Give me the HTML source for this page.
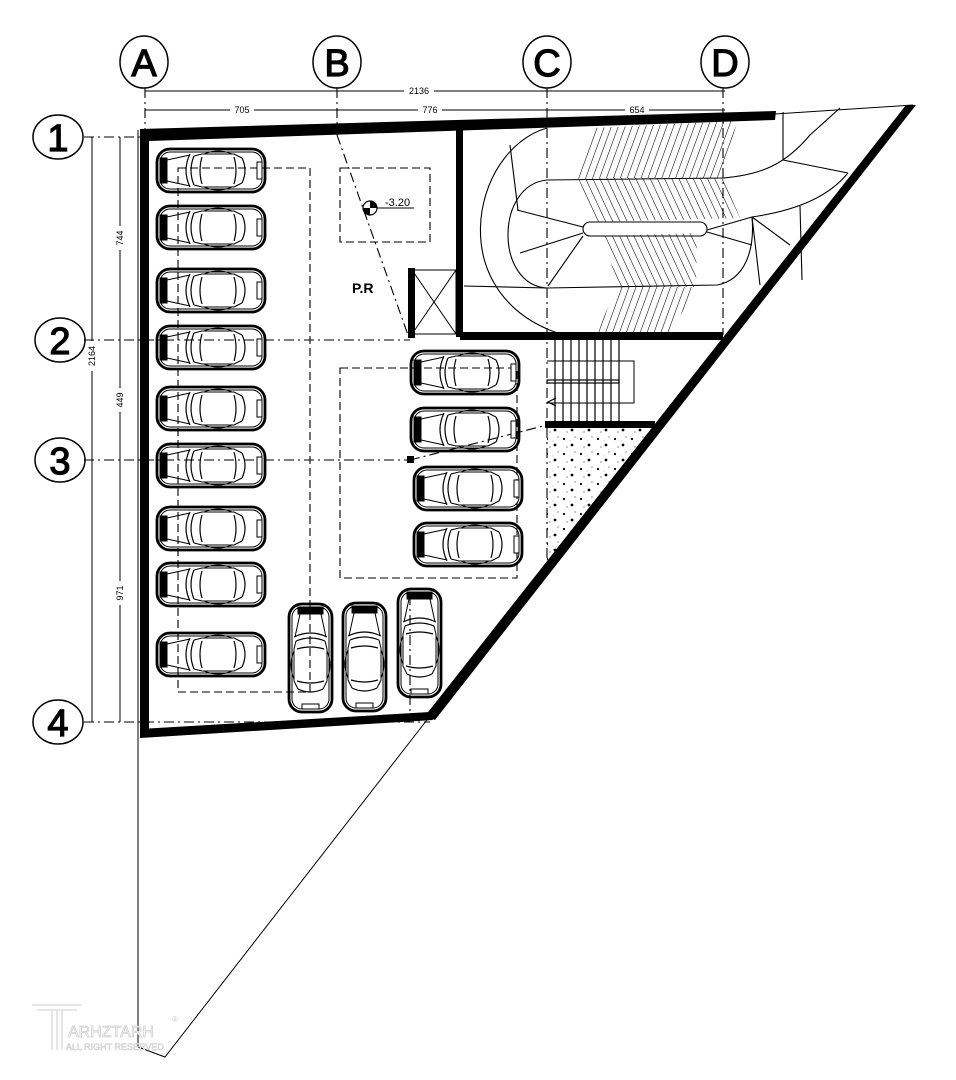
<!DOCTYPE html>
<html><head><meta charset="utf-8"><style>
html,body{margin:0;padding:0;background:#fff;}
svg{display:block;}
text{font-family:"Liberation Sans",sans-serif;}
</style></head><body>
<svg width="956" height="1080" viewBox="0 0 956 1080" xmlns="http://www.w3.org/2000/svg">
<defs>
<g id="car" fill="none" stroke="#000">
 <rect x="1" y="1" width="108" height="43" rx="13" stroke-width="2.8"/>
 <rect x="4" y="4" width="102" height="37" rx="10" stroke-width="1"/>
 <rect x="4" y="10" width="7" height="25" fill="#000"/>
 <rect x="101" y="14" width="5" height="17" fill="#fff" stroke-width="1"/>
 <path d="M11,12 L34,7 M11,33 L34,38" stroke-width="1"/>
 <path d="M34,6 Q26,22.5 34,39 M38,8 Q32,22.5 38,37" stroke-width="1.2"/>
 <path d="M38,8 L46,6 L78,6 L86,10 M38,37 L46,39 L78,39 L86,35" stroke-width="1"/>
 <path d="M46,9 Q42,22.5 46,36 M78,9 Q82,22.5 78,36 M86,10 Q92,22.5 86,35" stroke-width="1.2"/>
 <path d="M48,6 Q62,0 76,6 M48,39 Q62,45 76,39" stroke-width="1"/>
</g>
<pattern id="hA" patternUnits="userSpaceOnUse" width="6.5" height="10" patternTransform="rotate(20)">
 <line x1="0" y1="0" x2="0" y2="10" stroke="#000" stroke-width="1.1"/></pattern>
<pattern id="hB" patternUnits="userSpaceOnUse" width="6.5" height="10" patternTransform="rotate(-25)">
 <line x1="0" y1="0" x2="0" y2="10" stroke="#000" stroke-width="1.1"/></pattern>
<pattern id="dots" patternUnits="userSpaceOnUse" width="17" height="15">
 <circle cx="3" cy="4" r="1.1" fill="#000"/><circle cx="11" cy="10" r="1.4" fill="#000"/>
 <circle cx="14" cy="2" r="0.6" fill="#444"/><circle cx="6" cy="12" r="0.6" fill="#444"/>
 <circle cx="9" cy="6" r="0.4" fill="#666"/></pattern>
</defs>

<!-- grid circles -->
<g fill="none" stroke="#000" stroke-width="1.5">
 <ellipse cx="144" cy="62" rx="24" ry="26"/><ellipse cx="337" cy="62" rx="24" ry="26"/>
 <ellipse cx="547" cy="62" rx="24" ry="26"/><ellipse cx="725" cy="62" rx="24" ry="26"/>
 <ellipse cx="58" cy="137" rx="25" ry="22"/><ellipse cx="60" cy="340" rx="25" ry="22"/>
 <ellipse cx="60" cy="460" rx="25" ry="22"/><ellipse cx="58" cy="722" rx="25" ry="22"/>
</g>
<g font-size="38" text-anchor="middle" stroke="#000" stroke-width="1.2">
 <text x="144" y="76">A</text><text x="337" y="76">B</text><text x="547" y="76">C</text><text x="725" y="76">D</text>
 <text x="58" y="151">1</text><text x="60" y="354">2</text><text x="60" y="474">3</text><text x="58" y="736">4</text>
</g>

<!-- grid lines -->
<g stroke="#000" stroke-width="1.1" stroke-dasharray="10 4 2 4" fill="none">
 <line x1="145" y1="88" x2="145" y2="135"/>
 <line x1="337" y1="88" x2="337" y2="135"/>
 <line x1="337" y1="135" x2="408" y2="335"/>
 <line x1="547" y1="88" x2="547" y2="560"/>
 <line x1="723" y1="88" x2="723" y2="335"/>
 <line x1="84" y1="137" x2="142" y2="137"/>
 <line x1="84" y1="340" x2="410" y2="340"/>
 <line x1="84" y1="460" x2="410" y2="460"/>
 <line x1="410" y1="460" x2="547" y2="425"/>
 <line x1="84" y1="722" x2="430" y2="722"/>
 <line x1="410" y1="595" x2="410" y2="718"/>
</g>
<rect x="407" y="456" width="7" height="7" fill="#000"/>

<!-- dimensions -->
<g stroke="#000" stroke-width="1">
 <line x1="145" y1="91" x2="725" y2="91"/>
 <line x1="145" y1="110" x2="725" y2="110"/>
 <line x1="92" y1="137" x2="92" y2="722"/>
 <line x1="120" y1="137" x2="120" y2="722"/>
</g>
<g font-size="9" text-anchor="middle">
 <rect x="404" y="86" width="30" height="9" fill="#fff"/><text x="419" y="94">2136</text>
 <rect x="230" y="105" width="24" height="9" fill="#fff"/><text x="242" y="113">705</text>
 <rect x="418" y="105" width="24" height="9" fill="#fff"/><text x="430" y="113">776</text>
 <rect x="625" y="105" width="24" height="9" fill="#fff"/><text x="637" y="113">654</text>
 <g transform="translate(95,356) rotate(-90)"><rect x="-15" y="-9" width="30" height="10" fill="#fff"/><text x="0" y="0">2164</text></g>
 <g transform="translate(123,238) rotate(-90)"><rect x="-12" y="-9" width="24" height="10" fill="#fff"/><text x="0" y="0">744</text></g>
 <g transform="translate(123,400) rotate(-90)"><rect x="-12" y="-9" width="24" height="10" fill="#fff"/><text x="0" y="0">449</text></g>
 <g transform="translate(123,593) rotate(-90)"><rect x="-12" y="-9" width="24" height="10" fill="#fff"/><text x="0" y="0">971</text></g>
</g>

<!-- site thin lines -->
<g stroke="#000" stroke-width="1" fill="none">
 <polyline points="138,130 138,1047 165,1057 430,716"/>
 <line x1="775" y1="114" x2="913" y2="105"/>
</g>

<!-- ramp -->
<polygon points="592,128 737,121 723,178 578,178" fill="url(#hA)"/>
<polygon points="578,178 723,178 740,218 597,222" fill="url(#hB)"/>
<polygon points="603,236 697,233 696,287 618,287" fill="url(#hB)"/>
<polygon points="618,287 696,287 670,335 595,335" fill="url(#hA)"/>
<g stroke="#000" stroke-width="1.1" fill="none">
 <path d="M547,128 C470,150 440,300 567,336"/>
 <path d="M547,180 C495,185 495,285 547,288 L717,285 C745,280 755,250 752,217"/>
 <path d="M547,180 L723,178 C760,175 785,165 810,135 L840,108"/>
 <path d="M752,217 C800,210 830,195 848,173"/>
 <rect x="583" y="222" width="124" height="14" rx="7"/>
 <path d="M517,210 L583,227 M520,253 L583,233 M548,286 L583,236"/>
 <path d="M707,230 L752,217 M707,232 L752,245 M752,217 L790,245 M752,217 L760,285"/>
 <path d="M510,145 L518,210 M783,112 L783,160 M783,160 L848,173 M800,206 L802,280"/>
 <path d="M464,286 L547,288"/>
</g>

<!-- stair -->
<g stroke="#000" stroke-width="1.2" fill="none">
 <line x1="555" y1="340" x2="555" y2="423"/><line x1="563" y1="340" x2="563" y2="423"/>
 <line x1="571" y1="340" x2="571" y2="423"/><line x1="579" y1="340" x2="579" y2="423"/>
 <line x1="587" y1="340" x2="587" y2="423"/><line x1="595" y1="340" x2="595" y2="423"/>
 <line x1="603" y1="340" x2="603" y2="423"/><line x1="611" y1="340" x2="611" y2="423"/>
 <line x1="619" y1="340" x2="619" y2="423"/>
 <polyline points="547,361 634,361 634,403 547,403" stroke-width="1"/>
 <rect x="547" y="380" width="72" height="3"/>
 <path d="M556,398 L548,402 L556,406"/>
</g>
<polygon points="547,428 652,428 547,562" fill="url(#dots)"/>

<!-- walls -->
<g fill="#000">
 <polygon points="140,129 776,111 775,120 149,141 149,737 140,737"/>
 <polygon points="906,105 916,105 435,720 425,716"/>
 <polygon points="140,729 430,712 433,720 140,738"/>
 <rect x="456" y="130" width="7" height="207"/>
 <rect x="460" y="332" width="263" height="8"/>
 <rect x="545" y="421" width="110" height="7"/>
 <rect x="408" y="268" width="7" height="70"/>
</g>
<g stroke="#000" stroke-width="1" fill="none">
 <rect x="412" y="270" width="44" height="64"/>
 <line x1="412" y1="270" x2="456" y2="334"/><line x1="456" y1="270" x2="412" y2="334"/>
</g>

<!-- dashed rects -->
<g stroke="#000" stroke-width="1.1" stroke-dasharray="8 4" fill="none">
 <rect x="178" y="168" width="132" height="524"/>
 <rect x="340" y="168" width="90" height="74"/>
 <rect x="340" y="368" width="177" height="210"/>
</g>

<!-- elevation -->
<circle cx="370" cy="208" r="7" fill="#fff" stroke="#000" stroke-width="1.2"/>
<path d="M370,208 L370,201 A7,7 0 0 1 377,208 Z M370,208 L370,215 A7,7 0 0 1 363,208 Z" fill="#000"/>
<line x1="377" y1="208" x2="414" y2="208" stroke="#000"/>
<text x="385" y="206" font-size="11">-3.20</text>
<text x="352" y="293" font-size="14" font-weight="bold" font-family="Liberation Serif,serif">P.R</text>

<!-- cars -->
<use href="#car" x="156" y="148"/><use href="#car" x="156" y="205"/>
<use href="#car" x="156" y="268"/><use href="#car" x="156" y="325"/>
<use href="#car" x="156" y="386"/><use href="#car" x="156" y="443"/>
<use href="#car" x="156" y="506"/><use href="#car" x="156" y="562"/>
<use href="#car" x="156" y="632"/>
<use href="#car" x="410" y="350"/><use href="#car" x="410" y="407"/>
<use href="#car" x="413" y="466"/><use href="#car" x="413" y="522"/>
<use href="#car" transform="translate(333,603) rotate(90)"/>
<use href="#car" transform="translate(387,602) rotate(90)"/>
<use href="#car" transform="translate(442,588) rotate(90)"/>

<!-- watermark -->
<g fill="none" stroke="#ddd" stroke-width="1.5">
 <path d="M32,1005 L82,1005 M37,1010 L77,1010 M52,1010 L52,1050 M57,1010 L57,1050 M62,1010 L62,1050"/>
</g>
<text x="68" y="1037" font-size="16" fill="#fff" stroke="#cfcfcf" stroke-width="0.8">ARHZTARH</text>
<text x="66" y="1050" font-size="9" fill="#fff" stroke="#cfcfcf" stroke-width="0.6">ALL RIGHT RESERVED</text>
<text x="172" y="1022" font-size="8" fill="#ccc">®</text>
</svg>
</body></html>
